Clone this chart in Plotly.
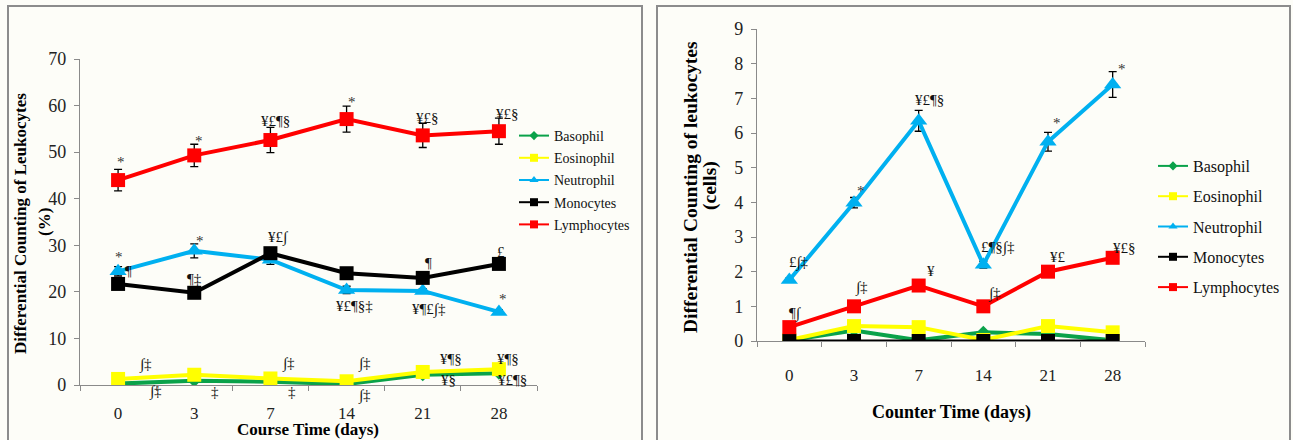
import plotly.graph_objects as go

# ---------------- data ----------------
days = ["0", "3", "7", "14", "21", "28"]
series_names = ["Basophil", "Eosinophil", "Neutrophil", "Monocytes", "Lymphocytes"]

# Left panel: percentage
pct_baso = [0.3, 0.9, 0.7, 0.2, 2.2, 2.5]
pct_eos = [1.3, 2.2, 1.4, 0.8, 2.8, 3.4]
pct_neut = [24.4, 28.8, 26.9, 20.4, 20.2, 15.7]
pct_mono = [21.7, 19.8, 28.3, 24.0, 23.0, 26.0]
pct_lymph = [44.0, 49.3, 52.6, 57.1, 53.6, 54.5]
pct_baso_err = [0.2, 0.2, 0.2, 0.2, 0.2, 0.2]
pct_eos_err = [0.3, 0.3, 0.3, 0.3, 0.3, 0.3]
pct_neut_err = [1.0, 1.5, 1.0, 0.8, 0.5, 0.5]
pct_mono_err = [0.8, 0.8, 1.0, 0.8, 0.8, 0.8]
pct_lymph_err = [2.3, 2.4, 2.7, 2.8, 2.6, 2.8]

# Right panel: cells
cell_baso = [0.02, 0.3, 0.02, 0.25, 0.2, 0.02]
cell_eos = [0.03, 0.43, 0.4, 0.03, 0.43, 0.25]
cell_neut = [1.76, 3.99, 6.35, 2.2, 5.75, 7.4]
cell_mono = [0, 0, 0, 0, 0, 0]
cell_lymph = [0.4, 1.0, 1.6, 1.0, 2.0, 2.4]
cell_neut_err = [0.05, 0.15, 0.3, 0.1, 0.27, 0.37]
cell_lymph_err = [0.05, 0.05, 0.05, 0.05, 0.05, 0.05]

# significance labels
pct_lymph_sig = ["*", "*", "¥£¶§", "*", "¥£§", "¥£§"]
pct_neut_sig = ["*", "*", "", "¥£¶§‡", "¥¶£∫‡", "*"]
pct_mono_sig = ["¶", "¶‡", "¥£∫", "", "¶", "£"]
pct_eos_sig = ["∫‡", "", "∫‡", "∫‡", "¥¶§", "¥¶§"]
pct_baso_sig = ["∫‡", "‡", "‡", "∫‡", "¥§", "¥£¶§"]
cell_neut_sig = ["£∫‡", "*", "¥£¶§", "£¶§∫‡", "*", "*"]
cell_lymph_sig = ["¶∫", "∫‡", "¥", "∫‡", "¥£", "¥£§"]

# ---------------- style ----------------
FONT = "Liberation Serif"
colors = {"Basophil": "#0aa24a", "Eosinophil": "#ffff00", "Neutrophil": "#00b0f0",
          "Monocytes": "#000000", "Lymphocytes": "#ff0000"}
symbols = {"Basophil": "diamond", "Eosinophil": "square", "Neutrophil": "triangle-up",
           "Monocytes": "square", "Lymphocytes": "square"}
msize = {"Basophil": 10, "Eosinophil": 14, "Neutrophil": 15, "Monocytes": 14, "Lymphocytes": 14}

W, H = 1293, 440
def px_x(p): return p / W
def px_y(p): return (H - p) / H

fig = go.Figure()

left = {"Basophil": (pct_baso, pct_baso_err), "Eosinophil": (pct_eos, pct_eos_err),
        "Neutrophil": (pct_neut, pct_neut_err), "Monocytes": (pct_mono, pct_mono_err),
        "Lymphocytes": (pct_lymph, pct_lymph_err)}
right = {"Basophil": (cell_baso, None), "Eosinophil": (cell_eos, None),
         "Neutrophil": (cell_neut, cell_neut_err), "Monocytes": (cell_mono, None),
         "Lymphocytes": (cell_lymph, cell_lymph_err)}

for name in series_names:
    vals, err = left[name]
    fig.add_trace(go.Scatter(
        x=days, y=vals, mode="lines+markers", name=name, showlegend=False,
        xaxis="x", yaxis="y",
        line=dict(color=colors[name], width=4),
        marker=dict(symbol=symbols[name], size=msize[name], color=colors[name]),
        error_y=dict(type="data", array=err, color="black", thickness=1.3, width=4),
    ))
for name in series_names:
    vals, err = right[name]
    fig.add_trace(go.Scatter(
        x=days, y=vals, mode="lines+markers", name=name, showlegend=False,
        xaxis="x2", yaxis="y2",
        line=dict(color=colors[name], width=4 if name != "Monocytes" else 3),
        marker=dict(symbol=symbols[name], size=msize[name], color=colors[name]),
        error_y=(dict(type="data", array=err, color="black", thickness=1.3, width=4)
                 if err is not None else None),
    ))

# legend-only entries
for lg, xa, ya in (("legend", "x", "y"), ("legend2", "x2", "y2")):
    for name in series_names:
        fig.add_trace(go.Scatter(
            x=[None], y=[None], mode="lines+markers", name=name, legend=lg,
            legendgroup=lg + name, xaxis=xa, yaxis=ya,
            line=dict(color=colors[name], width=2),
            marker=dict(symbol=symbols[name], size=8 if name != "Basophil" else 7,
                        color=colors[name]),
        ))

annotations = []
def note(xa, ya, idx, val, text, dx, dy):
    if not text:
        return
    if text == "*":
        dy -= 4
    annotations.append(dict(
        x=idx, y=val, xref=xa, yref=ya, text=text, showarrow=False,
        xshift=dx, yshift=dy,
        font=dict(family=FONT, size=15, color="#333" if text == "*" else "#111")))

pct_lymph_off = [(3, 22), (5, 18), (5, 19), (5, 21), (5, 17), (9, 17)]
pct_neut_off = [(1, 18), (6, 14), (0, 0), (8, -16), (6, -19), (4, 17)]
pct_mono_off = [(10, 13), (0, 14), (8, 16), (0, 0), (6, 15), (2, 12)]
pct_eos_off = [(27, 14), (0, 0), (18, 15), (18, 18), (28, 13), (9, 10)]
pct_baso_off = [(37, -8), (21, -11), (22, -10), (18, -11), (26, -5), (14, -7)]
cell_neut_off = [(10, 17), (7, 16), (11, 21), (15, 17), (9, 23), (9, 19)]
cell_lymph_off = [(6, 14), (7, 19), (12, 15), (11, 13), (10, 15), (12, 10)]

for vals, sig, off in ((pct_lymph, pct_lymph_sig, pct_lymph_off),
                       (pct_neut, pct_neut_sig, pct_neut_off),
                       (pct_mono, pct_mono_sig, pct_mono_off),
                       (pct_eos, pct_eos_sig, pct_eos_off),
                       (pct_baso, pct_baso_sig, pct_baso_off)):
    for i, (v, t, (dx, dy)) in enumerate(zip(vals, sig, off)):
        note("x", "y", i, v, t, dx, dy)
for vals, sig, off in ((cell_neut, cell_neut_sig, cell_neut_off),
                       (cell_lymph, cell_lymph_sig, cell_lymph_off)):
    for i, (v, t, (dx, dy)) in enumerate(zip(vals, sig, off)):
        note("x2", "y2", i, v, t, dx, dy)

# axis titles as text annotations
def title(x, y, text, size, angle=0):
    annotations.append(dict(x=px_x(x), y=px_y(y), xref="paper", yref="paper", text=text,
                            showarrow=False, textangle=angle, xanchor="center", yanchor="middle",
                            font=dict(family=FONT, size=size, color="black")))

title(21, 224, "<b>Differential Counting of Leukocytes</b>", 17, -90)
title(44, 222, "<b>(%)</b>", 17, -90)
title(308, 429, "<b>Course Time (days)</b>", 17)
title(690, 187, "<b>Differential Counting of leukocytes</b>", 19.5, -90)
title(710, 186, "<b>(cells)</b>", 19.5, -90)
title(951, 412, "<b>Counter Time (days)</b>", 18)

axis_common = dict(showline=True, linecolor="#8a8a8a", linewidth=1.2, showgrid=False,
                   zeroline=False, ticks="outside", tickcolor="#8a8a8a", ticklen=5,
                   automargin=False)

fig.update_layout(
    template="none",
    width=W, height=H, autosize=False,
    margin=dict(l=0, r=0, t=0, b=0, pad=0, autoexpand=False),
    paper_bgcolor="#fdfdf8", plot_bgcolor="rgba(0,0,0,0)",
    font=dict(family=FONT),
    xaxis=dict(domain=[px_x(80), px_x(537)], anchor="y", type="category",
               range=[-0.5, 5.5], tickson="boundaries", ticklabelstandoff=12,
               tickfont=dict(family=FONT, size=17, color="#222"), **axis_common),
    yaxis=dict(domain=[px_y(385), px_y(59)], anchor="x", range=[0, 70], dtick=10,
               ticklabelstandoff=4, tickfont=dict(family=FONT, size=18, color="#222"),
               **axis_common),
    xaxis2=dict(domain=[px_x(757), px_x(1145)], anchor="y2", type="category",
                range=[-0.5, 5.5], tickson="boundaries", ticklabelstandoff=18,
                tickfont=dict(family=FONT, size=17, color="#222"), **axis_common),
    yaxis2=dict(domain=[px_y(341), px_y(29)], anchor="x2", range=[0, 9], dtick=1,
                ticklabelstandoff=4, tickfont=dict(family=FONT, size=18, color="#222"),
                **axis_common),
    legend=dict(x=px_x(514), y=px_y(120), xanchor="left", yanchor="top",
                bgcolor="rgba(0,0,0,0)", borderwidth=0,
                font=dict(family=FONT, size=14, color="#111"),
                traceorder="grouped", tracegroupgap=1, itemwidth=30),
    legend2=dict(x=px_x(1153), y=px_y(149), xanchor="left", yanchor="top",
                 bgcolor="rgba(0,0,0,0)", borderwidth=0,
                 font=dict(family=FONT, size=16, color="#111"),
                 traceorder="grouped", tracegroupgap=6.5, itemwidth=30),
    annotations=annotations,
    shapes=[
        dict(type="rect", xref="paper", yref="paper", x0=px_x(8), x1=px_x(642),
             y0=-0.1, y1=px_y(6), line=dict(color="#8c8c8c", width=2), layer="below"),
        dict(type="rect", xref="paper", yref="paper", x0=px_x(657), x1=px_x(1290),
             y0=-0.1, y1=px_y(6), line=dict(color="#8c8c8c", width=2), layer="below"),
    ],
)

fig.write_html("out.html", config={"displayModeBar": False},
               post_script="document.body.style.margin='0';document.body.style.overflow='hidden';")
